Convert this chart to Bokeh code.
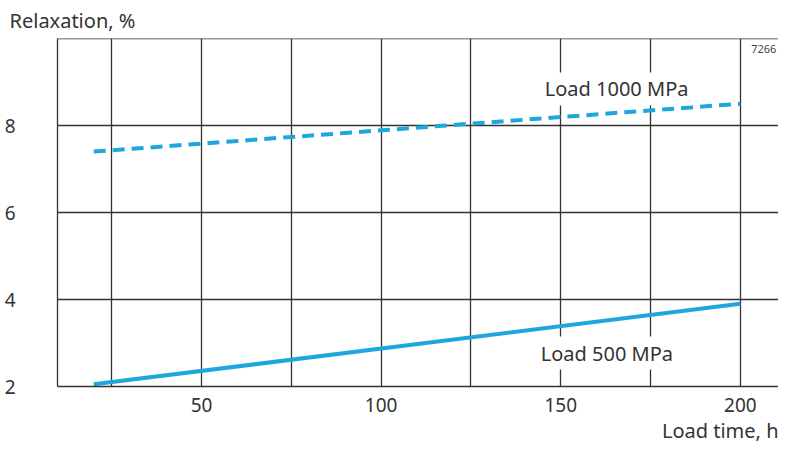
from bokeh.plotting import figure
from bokeh.models import Range1d, FixedTicker, Label, Span, Title
from bokeh.embed import file_html
from bokeh.resources import INLINE

# Data
time_1000 = [20, 200]
relax_1000 = [7.4, 8.5]
time_500 = [20, 200]
relax_500 = [2.05, 3.9]

x_ticks = [25, 50, 75, 100, 125, 150, 175, 200]
x_labels = {25: "", 50: "50", 75: "", 100: "100", 125: "", 150: "150", 175: "", 200: "200"}
y_ticks = [2, 4, 6, 8]
y_labels = {2: "2", 4: "4", 6: "6", 8: "8"}

FONT = "Noto Sans"
TXT = "#333333"
BLUE = "#1ea7dc"
GRID = "#333333"

p = figure(width=778, height=443, output_backend="svg", toolbar_location=None,
           x_range=Range1d(9.92, 210.6), y_range=Range1d(2, 10),
           min_border_left=57, min_border_right=0, min_border_top=37, min_border_bottom=55)
p.outline_line_color = None

p.title = Title(text="Relaxation, %", align="left", offset=-48,
                text_font=FONT, text_font_size="20px", text_font_style="normal",
                text_color=TXT, standoff=9)
p.add_layout(Title(text="Load time, h", align="right", text_font=FONT,
                   text_font_size="20px", text_font_style="normal", text_color=TXT,
                   standoff=0), "below")

p.xaxis.ticker = FixedTicker(ticks=x_ticks)
p.xaxis.major_label_overrides = x_labels
p.yaxis.ticker = FixedTicker(ticks=y_ticks)
p.yaxis.major_label_overrides = y_labels
for ax in (p.xaxis, p.yaxis):
    ax.major_tick_line_color = None
    ax.minor_tick_line_color = None
    ax.axis_line_color = GRID
    ax.axis_line_width = 1.3
    ax.major_label_text_font = FONT
    ax.major_label_text_font_size = "19px"
    ax.major_label_text_color = TXT
p.xaxis.major_label_standoff = 5
p.yaxis.major_label_standoff = 36

p.xgrid.ticker = FixedTicker(ticks=x_ticks)
p.ygrid.ticker = FixedTicker(ticks=y_ticks)
for g in (p.xgrid, p.ygrid):
    g.grid_line_color = GRID
    g.grid_line_width = 1.3
    g.grid_line_alpha = 1.0

p.add_layout(Span(location=10, dimension="width", line_color=GRID, line_width=1.3))

p.line(time_1000, relax_1000, line_color=BLUE, line_width=4, line_dash="12 7")
p.line(time_500, relax_500, line_color=BLUE, line_width=4)

def lab(x, y, t, size="20px", bg=None, align="left", color=TXT):
    l = Label(x=x, y=y, text=t, text_font=FONT, text_font_size=size, text_color=color,
              text_baseline="middle", text_align=align)
    if bg:
        l.background_fill_color = bg
        l.padding = 3
    p.add_layout(l)

lab(144.7, 8.84, "Load 1000 MPa", bg="white")
lab(143.6, 2.77, "Load 500 MPa", bg="white")
lab(210.0, 9.75, "7266", size="11px", color="#444444", align="right")

open("out.html", "w").write(file_html(p, INLINE))
